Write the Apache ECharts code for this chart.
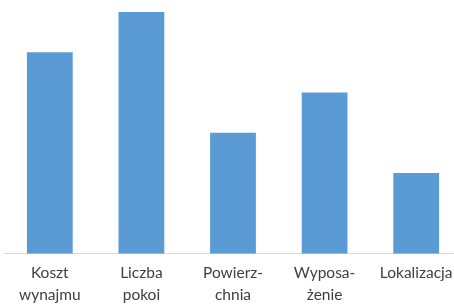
<!DOCTYPE html>
<html><head><meta charset="utf-8">
<script src="https://cdn.jsdelivr.net/npm/echarts@6/dist/echarts.min.js"></script>
<style>html,body{margin:0;padding:0;background:#fff}#c{width:454px;height:306px}</style>
</head><body><div id="c"></div>
<script>
const categories = ["Koszt\nwynajmu", "Liczba\npokoi", "Powierz-\nchnia", "Wyposa-\nżenie", "Lokalizacja"];
const values = [5, 6, 3, 4, 2];
const chart = echarts.init(document.getElementById('c'), null, {renderer: 'canvas'});
chart.setOption({
  animation: false,
  grid: {left: 4, width: 458, top: 12, height: 241.5, containLabel: false, outerBoundsMode: 'none'},
  xAxis: {
    type: 'category', data: categories,
    axisLine: {lineStyle: {color: '#d9d9d9', width: 1}},
    axisTick: {show: false},
    axisLabel: {interval: 0, color: '#404040', fontFamily: 'Lato', fontSize: 15.5, lineHeight: 22, margin: 8}
  },
  yAxis: {type: 'value', min: 0, max: 6, show: false, splitLine: {show: false}},
  series: [{type: 'bar', data: values, barWidth: '50%', itemStyle: {color: '#5b9bd5'}}]
});
</script></body></html>
